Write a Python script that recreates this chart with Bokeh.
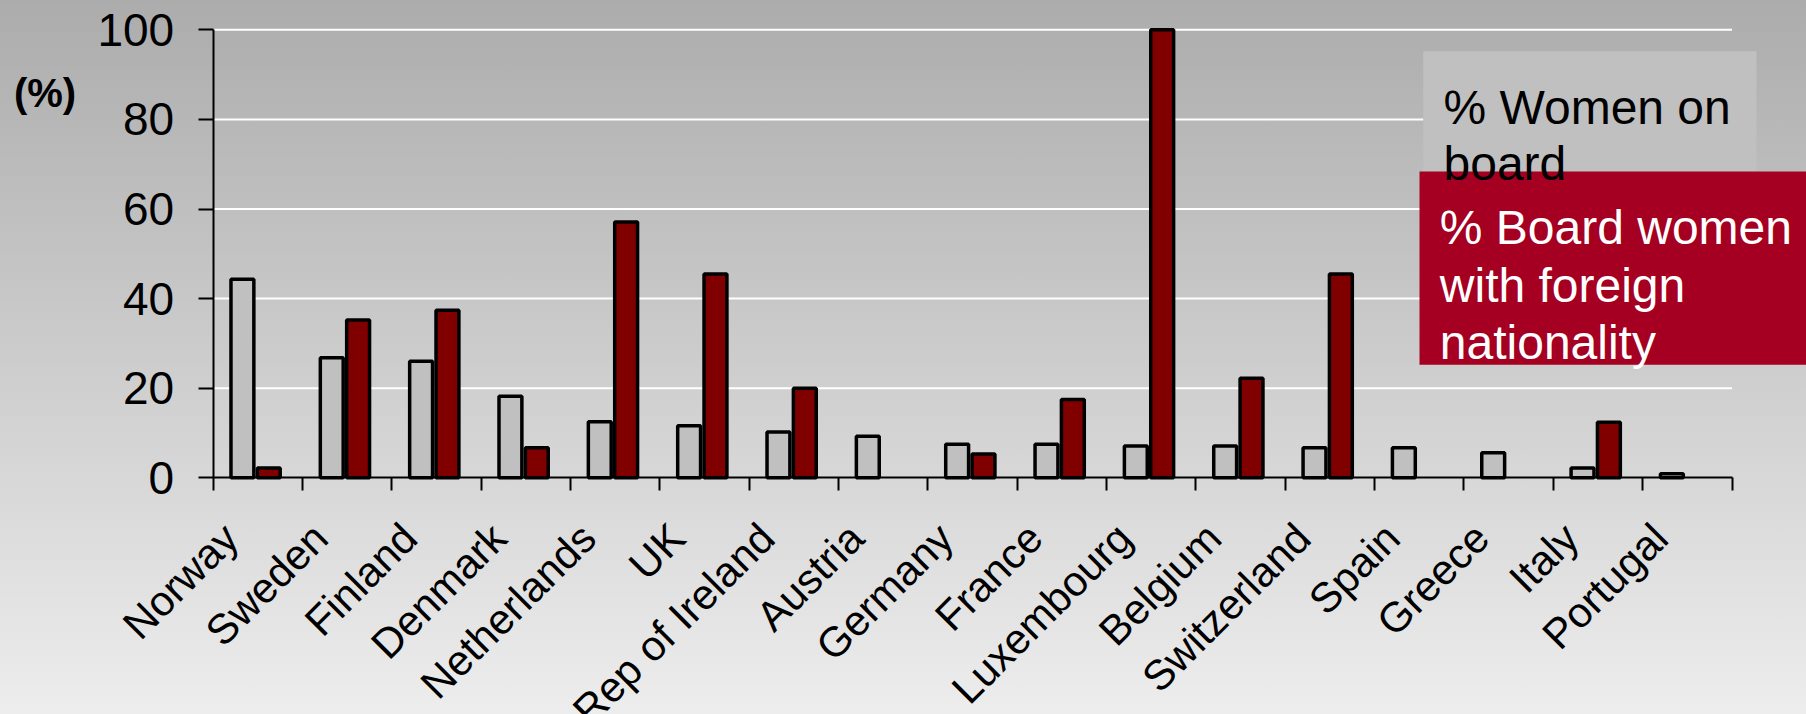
import math
from bokeh.plotting import figure
from bokeh.models import ColumnDataSource, Range1d, FixedTicker, LabelSet, Label, BoxAnnotation
from bokeh.core.properties import value
from bokeh.embed import file_html
from bokeh.resources import INLINE

# ---------------- data ----------------
countries = ["Norway", "Sweden", "Finland", "Denmark", "Netherlands", "UK",
             "Rep of Ireland", "Austria", "Germany", "France", "Luxembourg",
             "Belgium", "Switzerland", "Spain", "Greece", "Italy", "Portugal"]
women_on_board = [44.3, 26.8, 26.0, 18.2, 12.5, 11.6, 10.2, 9.3, 7.5, 7.5,
                  7.1, 7.1, 6.7, 6.7, 5.6, 2.2, 0.9]
foreign_women = [2.2, 35.2, 37.4, 6.7, 57.1, 45.5, 20.0, float("nan"), 5.3, 17.5,
                 100.0, 22.2, 45.5, float("nan"), float("nan"), 12.4, float("nan")]
y_ticks = [0, 20, 40, 60, 80, 100]
legend_women = ["% Women on", "board"]
legend_foreign = ["% Board women", "with foreign", "nationality"]
y_unit_label = "(%)"

# ---------------- layout (pixels) ----------------
W, H = 1806, 714
AXIS_L = 212.7      # pixel of the y axis (x = 0)
AXIS_R = 1731.5     # pixel of the end of the category axis
ZERO_PX = 477.3     # pixel of y = 0
TOP100_PX = 29.3    # pixel of y = 100
N = len(countries)
px_x = (AXIS_R - AXIS_L) / N
px_y = (ZERO_PX - TOP100_PX) / 100.0


def dx(sx):
    return (sx - AXIS_L) / px_x


def dy(sy):
    return (ZERO_PX - sy) / px_y


FONT = "Liberation Sans"

p = figure(width=W, height=H,
           x_range=Range1d(dx(0), dx(W)), y_range=Range1d(dy(H), dy(0)),
           output_backend="svg", toolbar_location=None,
           min_border_left=0, min_border_right=0, min_border_top=0, min_border_bottom=0)
p.title.visible = False
p.outline_line_color = None
p.background_fill_alpha = 0
p.border_fill_alpha = 0
p.styles = {"background": "linear-gradient(180deg, #ACACAC 0%, #EDEDED 100%)"}
p.xgrid.visible = False
p.ygrid.visible = False

# grid lines (white) only across the category span
grid_vals = [t for t in y_ticks if t > 0]
p.segment(x0=[0] * len(grid_vals), x1=[N] * len(grid_vals), y0=grid_vals, y1=grid_vals,
          line_color="white", line_width=2)

# y axis, fixed at x = 0
ya = p.yaxis[0]
ya.fixed_location = 0
ya.ticker = FixedTicker(ticks=y_ticks)
ya.bounds = (0, 100)
ya.axis_line_color = "black"
ya.axis_line_width = 2
ya.major_tick_line_color = "black"
ya.major_tick_line_width = 2
ya.major_tick_out = 15
ya.major_tick_in = 0
ya.minor_tick_line_color = None
ya.major_label_text_font = FONT
ya.major_label_text_font_size = "46px"
ya.major_label_text_color = "black"
ya.major_label_standoff = 24

# x axis, fixed at y = 0, ticks at category boundaries
xa = p.xaxis[0]
xa.fixed_location = 0
xa.ticker = FixedTicker(ticks=list(range(N + 1)))
xa.bounds = (0, N)
xa.axis_line_color = "black"
xa.axis_line_width = 2
xa.major_tick_line_color = "black"
xa.major_tick_line_width = 2
xa.major_tick_out = 13
xa.major_tick_in = 0
xa.minor_tick_line_color = None
xa.major_label_overrides = {i: "" for i in range(N + 1)}
xa.major_label_text_font_size = "1px"

# bars
src = ColumnDataSource(dict(
    xw=[i + 0.327 for i in range(N)],
    xf=[i + 0.622 for i in range(N)],
    xc=[i + 0.5 for i in range(N)],
    y0=[0] * N,
    women=women_on_board,
    foreign=foreign_women,
    name=countries,
))
BAR_W = 0.256
p.vbar(x="xw", top="women", width=BAR_W, source=src,
       fill_color="#C0C0C0", line_color="black", line_width=3.5)
p.vbar(x="xf", top="foreign", width=BAR_W, source=src,
       fill_color="#800000", line_color="black", line_width=3.5)

# category labels, rotated 45 degrees
labels = LabelSet(x="xc", y="y0", text="name", source=src, angle=math.pi / 4,
                  text_align="right", text_baseline="middle",
                  x_offset=-27, y_offset=-53,
                  text_font=value(FONT), text_font_size=value("42px"), text_color="black")
p.add_layout(labels)

# unit label
p.add_layout(Label(x=dx(44.5), y=dy(92.5), text=y_unit_label, text_align="center",
                   text_baseline="middle", text_font=FONT, text_font_size="40px",
                   text_font_style="bold", text_color="black"))

# legend boxes
p.add_layout(BoxAnnotation(left=dx(1422.7), right=dx(1756), top=dy(50.7), bottom=dy(171),
                           fill_color="#C0C0C0", fill_alpha=1.0, line_color=None))
p.add_layout(BoxAnnotation(left=dx(1419), right=dx(W) + 1, top=dy(171), bottom=dy(364.3),
                           fill_color="#A50021", fill_alpha=1.0, line_color=None))
for txt, base in zip(legend_women, [106.7, 163.3]):
    p.add_layout(Label(x=dx(1443), y=dy(base), text=txt, text_align="left",
                       text_baseline="alphabetic", text_font=FONT, text_font_size="48px",
                       text_color="black"))
for txt, base in zip(legend_foreign, [226.7, 285.0, 341.7]):
    p.add_layout(Label(x=dx(1439.3), y=dy(base), text=txt, text_align="left",
                       text_baseline="alphabetic", text_font=FONT, text_font_size="48px",
                       text_color="white"))

open("out.html", "w").write(file_html(p, INLINE))
